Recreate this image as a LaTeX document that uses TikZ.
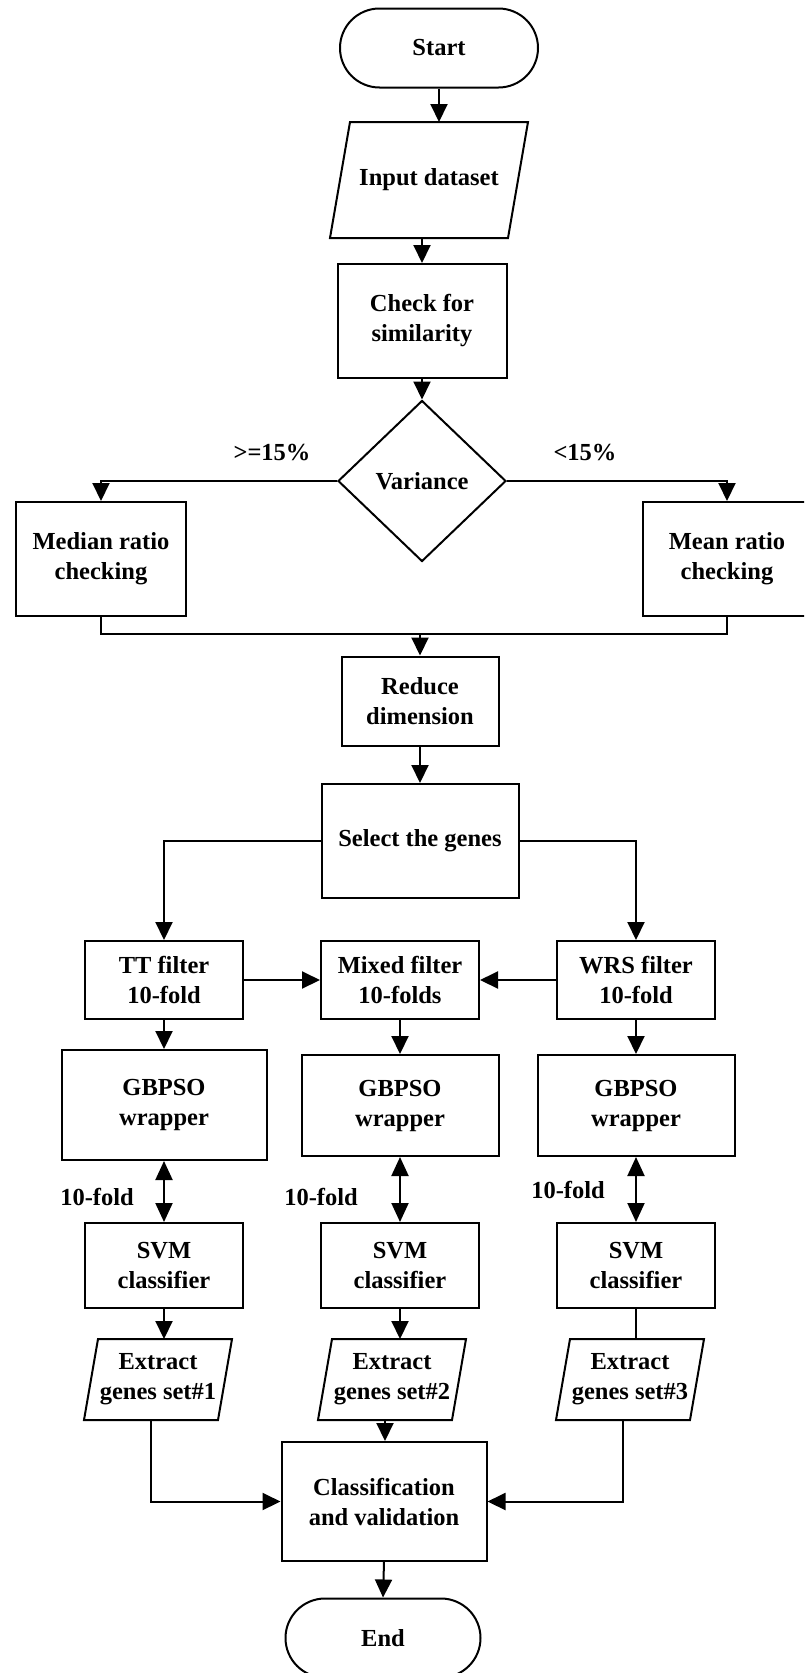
\documentclass[tikz,border=0pt]{standalone}
\usepackage{fontspec}
\setmainfont{Liberation Serif}
\usetikzlibrary{positioning}
\usetikzlibrary{calc}
\usetikzlibrary{shapes.geometric}
\usetikzlibrary{shapes.misc}
\usepgflibrary{arrows.meta}

\begin{document}
\begin{tikzpicture}[x=1pt, y=-1pt, line width=2pt,
    font=\fontsize{24.5}{30}\selectfont\bfseries,
    every node/.append style={align=center, inner sep=0pt},
    box/.style 2 args={draw, rectangle, minimum width=#1, minimum height=#2},
    term/.style={draw, rounded rectangle, minimum width=#1, minimum height=79},
    io/.style 2 args={rectangle, minimum width=#1, minimum height=#2},
    tip/.style={-{Triangle[length=18pt, width=17pt]}},
    both/.style={{Triangle[length=19pt, width=17pt]}-{Triangle[length=19pt, width=17pt]}}]
    \useasboundingbox (0, 0) rectangle (804, 1673);
    \clip (0, 0) rectangle (804, 1673);

    % top part
    \node[term=198] (start) at (439, 48) {Start};
    \node[io={196}{114}] (input) at (429, 180) {Input dataset};
    \node[box={169}{114}] (check) at (422, 321) {Check for\\similarity};
    \node[draw, diamond, minimum width=168, minimum height=161] (var) at (422, 481) {Variance};
    \node (ge) at (272, 453) {>=15\%};
    \node (lt) at (585, 453) {<15\%};
    \node[box={170}{114}] (median) at (101, 559) {Median ratio\\checking};
    \node[box={168}{114}] (mean) at (727, 559) {Mean ratio\\checking};
    \node[box={157}{89}] (reduce) at (420, 701) {Reduce\\dimension};
    \node[box={197}{114}] (select) at (420, 841) {Select the genes};

    % three branches
    \node[box={158}{78}] (tt) at (164, 980) {TT filter\\10-fold};
    \node[box={158}{78}] (mixed) at (400, 980) {Mixed filter\\10-folds};
    \node[box={158}{78}] (wrs) at (636, 980) {WRS filter\\10-fold};
    \node[box={205}{110}] (gbA) at (164, 1105) {GBPSO\\wrapper};
    \node[box={197}{101}] (gbB) at (400, 1105.5) {GBPSO\\wrapper};
    \node[box={197}{101}] (gbC) at (636, 1105.5) {GBPSO\\wrapper};
    \node (foldA) at (97, 1197) {10-fold};
    \node (foldB) at (321, 1197) {10-fold};
    \node (foldC) at (568, 1190) {10-fold};
    \node[box={158}{85}] (svmA) at (164, 1265.5) {SVM\\classifier};
    \node[box={158}{85}] (svmB) at (400, 1265.5) {SVM\\classifier};
    \node[box={158}{85}] (svmC) at (636, 1265.5) {SVM\\classifier};
    \node[io={146}{79}] (extA) at (158, 1379.5) {Extract\\genes set\#1};
    \node[io={146}{79}] (extB) at (392, 1379.5) {Extract\\genes set\#2};
    \node[io={146}{79}] (extC) at (630, 1379.5) {Extract\\genes set\#3};

    % bottom part
    \node[box={205}{119}] (class) at (384, 1501.5) {Classification\\and validation};
    \node[term=195] (finish) at (383, 1638) {End};

    % slanted outlines of the data boxes
    \path[draw] ($(input.north west) + (20, 0)$) -- (input.north east)
      -- ($(input.south east) - (20, 0)$) -- (input.south west) -- cycle;
    \foreach \n in {extA, extB, extC}
      \path[draw] ($(\n.north west) + (14, 0)$) -- (\n.north east)
        -- ($(\n.south east) - (14, 0)$) -- (\n.south west) -- cycle;

    \coordinate (merge) at ($(median.south) + (0, 17)$);
    \coordinate (extAb) at ($(extA.south) - (7, 0)$);
    \coordinate (extBb) at ($(extB.south) - (7, 0)$);
    \coordinate (extCb) at ($(extC.south) - (7, 0)$);

    \path[draw, tip] (start.south) -- (start.south |- input.north);
    \path[draw, tip] (check.north |- input.south) -- (check.north);
    \path[draw, tip] (check.south) -- (var.north);
    \path[draw, tip] (var.west) -| (median.north);
    \path[draw, tip] (var.east) -| (mean.north);
    \path[draw] (median.south) -- (merge) -| (mean.south);
    \path[draw, tip] (merge -| reduce.north) -- (reduce.north);
    \path[draw, tip] (reduce.south) -- (select.north);
    \path[draw, tip] (select.west) -| (tt.north);
    \path[draw, tip] (select.east) -| (wrs.north);
    \path[draw, tip] (tt.east) -- (mixed.west);
    \path[draw, tip] (wrs.west) -- (mixed.east);

    \path[draw, tip] (tt.south) -- (gbA.north);
    \path[draw, tip] (mixed.south) -- (gbB.north);
    \path[draw, tip] (wrs.south) -- (gbC.north);
    \path[draw, both] (gbA.south) -- (svmA.north);
    \path[draw, both] (gbB.south) -- (svmB.north);
    \path[draw, both] (gbC.south) -- (svmC.north);
    \path[draw, tip] (svmA.south) -- (svmA.south |- extA.north);
    \path[draw, tip] (svmB.south) -- (svmB.south |- extB.north);
    \path[draw, line width=1.2pt] (svmC.south) -- (svmC.south |- extC.north);

    \path[draw, tip] (extAb) |- (class.west);
    \path[draw, tip] (extBb) -- (extBb |- class.north);
    \path[draw, tip] (extCb) |- (class.east);
    \path[draw, tip] (class.south) -- (finish.north);
  \end{tikzpicture}
\end{document}
